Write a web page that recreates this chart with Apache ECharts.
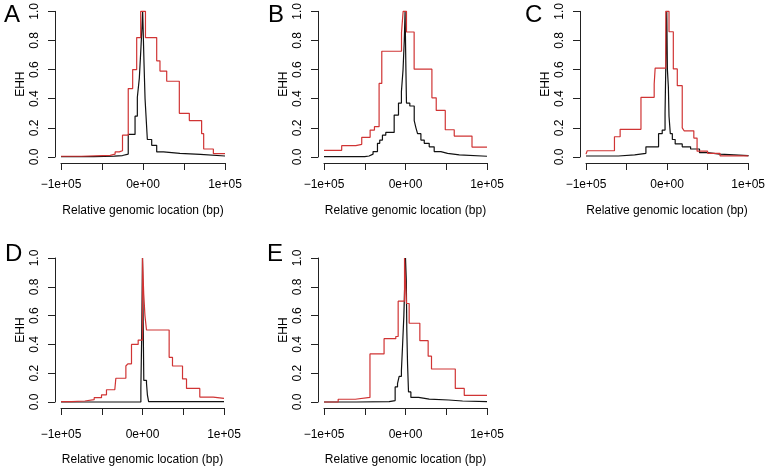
<!DOCTYPE html>
<html>
<head>
<meta charset="utf-8">
<script src="https://cdn.jsdelivr.net/npm/echarts@6/dist/echarts.min.js"></script>
<style>
html,body{margin:0;padding:0;background:#fff;}
#chart{width:768px;height:467px;}
</style>
</head>
<body>
<div id="chart"></div>
<script>
// ---- data (relative position in bp, EHH value) ----
const panelLetters = ['A', 'B', 'C', 'D', 'E'];
const xTickValues = [-100000, 0, 100000];
const xTickLabels = ['\u22121e+05', '0e+00', '1e+05'];
const xAxisTitle = 'Relative genomic location (bp)';
const yAxisTitle = 'EHH';

// Panel A
const aBlackX = [-100000, -60000, -35000, -25000, -18000, -9700, -6900, -4500, -2500, -1200, -400, 1200, 2500, 3700, 5300, 10600, 16700, 25000, 45000, 70000, 100000];
const aBlackY = [0.003, 0.006, 0.01, 0.02, 0.155, 0.28, 0.41, 0.54, 0.75, 0.9, 1.0, 0.65, 0.4, 0.28, 0.12, 0.08, 0.035, 0.025, 0.018, 0.007, 0.007];
const aRedX = [-100000, -75000, -40000, -34000, -29000, -25000, -18000, -12600, -7700, -2800, 3000, 16700, 20700, 28900, 44300, 56500, 71500, 74000, 85800, 100000];
const aRedY = [0.005, 0.011, 0.02, 0.035, 0.043, 0.15, 0.47, 0.60, 0.82, 1.0, 0.82, 0.66, 0.59, 0.52, 0.30, 0.25, 0.16, 0.055, 0.023, 0.023];

// Panel B
const bBlackX = [-100000, -50000, -44700, -39800, -34400, -31600, -28300, -24200, -13900, -8600, -5000, -3000, -1500, -500, 500, 1200, 5300, 10700, 12800, 14800, 18900, 23000, 29100, 35200, 43400, 51600, 66000, 100000];
const bBlackY = [0.002, 0.007, 0.02, 0.037, 0.094, 0.116, 0.15, 0.169, 0.288, 0.37, 0.45, 0.6, 0.8, 1.0, 0.6, 0.37, 0.35, 0.25, 0.2, 0.16, 0.116, 0.094, 0.07, 0.037, 0.025, 0.014, 0.005, 0.005];
const bRedX = [-100000, -78300, -61000, -53700, -43400, -38100, -32400, -29100, -4900, -2900, 1200, 10600, 32400, 37700, 48800, 59800, 81600, 100000];
const bRedY = [0.046, 0.078, 0.087, 0.135, 0.185, 0.208, 0.505, 0.726, 0.854, 1.0, 0.858, 0.603, 0.406, 0.32, 0.187, 0.144, 0.068, 0.068];

// Panel C
const cBlackX = [-100000, -60000, -40000, -26100, -10500, -6000, -2500, -1200, -400, 400, 1600, 2400, 4000, 6500, 10000, 18700, 29000, 40000, 50000, 65000, 100000];
const cBlackY = [0.007, 0.015, 0.025, 0.07, 0.16, 0.185, 0.3, 0.75, 1.0, 0.6, 0.48, 0.28, 0.16, 0.12, 0.09, 0.07, 0.055, 0.03, 0.02, 0.01, 0.005];
const cRedX = [-100000, -98500, -64900, -57900, -32200, -15900, -14700, -1600, 2400, 7700, 12600, 18700, 21000, 33000, 37000, 50000, 65300, 100000];
const cRedY = [0.02, 0.043, 0.139, 0.19, 0.41, 0.50, 0.61, 1.0, 0.86, 0.605, 0.49, 0.20, 0.18, 0.13, 0.04, 0.025, 0.008, 0.005];

// Panel D
const dBlackX = [-100000, -2000, -1000, 0, 1600, 4900, 6000, 7500, 100000];
const dBlackY = [0.0, 0.1, 0.45, 1.0, 0.15, 0.13, 0.05, 0.003, 0.003];
const dRedX = [-100000, -87000, -70700, -59300, -50300, -44200, -34000, -32700, -20400, -18000, -13500, -5300, 0, 1500, 3000, 4900, 32700, 36800, 49100, 54000, 70300, 86700, 100000];
const dRedY = [0.002, 0.007, 0.016, 0.03, 0.05, 0.085, 0.095, 0.165, 0.25, 0.265, 0.40, 0.43, 1.0, 0.75, 0.6, 0.5, 0.31, 0.25, 0.16, 0.094, 0.034, 0.025, 0.025];

// Panel E
const eBlackX = [-100000, -60000, -20000, -12700, -9800, -7800, -5000, -3700, -2000, -800, 0, 1000, 1600, 2500, 3700, 6600, 16000, 29100, 53000, 70000, 100000];
const eBlackY = [0.0, 0.003, 0.01, 0.105, 0.128, 0.178, 0.22, 0.38, 0.6, 0.85, 1.0, 0.84, 0.5, 0.265, 0.07, 0.032, 0.02, 0.014, 0.007, 0.002, 0.002];
const eRedX = [-100000, -82600, -61600, -43600, -26300, -11900, -9000, -1200, 1200, 4500, 17600, 27800, 31900, 61100, 72100, 100000];
const eRedY = [0.0, 0.019, 0.032, 0.334, 0.44, 0.455, 0.70, 1.0, 0.684, 0.547, 0.426, 0.318, 0.229, 0.094, 0.046, 0.046];

const blackSeries = [[aBlackX, aBlackY], [bBlackX, bBlackY], [cBlackX, cBlackY], [dBlackX, dBlackY], [eBlackX, eBlackY]];
const redSeries = [[aRedX, aRedY], [bRedX, bRedY], [cRedX, cRedY], [dRedX, dRedY], [eRedX, eRedY]];

// ---- layout ----
const grids = [
  {left: 61, top: 11, width: 164, height: 146},
  {left: 324, top: 11, width: 163, height: 146},
  {left: 586, top: 11, width: 164, height: 146},
  {left: 61, top: 258, width: 163, height: 146},
  {left: 324, top: 258, width: 163, height: 146}
];
const xLabelMargin = [16, 16, 16, 21, 21];
const xNameGap = [42, 42, 42, 46, 46];
const letterPos = [[4, 15], [268, 15], [525, 15], [5, 254], [267, 254]];

const FONT = '"Liberation Sans", Arial, Helvetica, sans-serif';
const AXIS_COLOR = '#222';
const RED = '#d03434';
const BLACK = '#111';

function zip(xs, ys) { return xs.map((x, i) => [x, ys[i]]); }

const xAxes = grids.map((g, i) => ({
  type: 'value', gridIndex: i, min: -100000, max: 100000, interval: 50000,
  position: 'bottom', offset: 6,
  axisLine: {show: true, onZero: false, lineStyle: {color: AXIS_COLOR, width: 1}},
  axisTick: {show: true, length: 7, lineStyle: {color: AXIS_COLOR, width: 1}},
  splitLine: {show: false},
  axisLabel: {
    show: true, margin: xLabelMargin[i], color: '#000', fontFamily: FONT, fontSize: 12,
    showMinLabel: true, showMaxLabel: true, hideOverlap: false,
    formatter: function (v) {
      const k = xTickValues.indexOf(Math.round(v));
      return k >= 0 ? xTickLabels[k] : '';
    }
  },
  name: xAxisTitle, nameLocation: 'middle', nameGap: xNameGap[i],
  nameTextStyle: {color: '#000', fontFamily: FONT, fontSize: 12}
}));

const yAxes = grids.map((g, i) => ({
  type: 'value', gridIndex: i, min: 0, max: 1, interval: 0.2,
  position: 'left', offset: 6,
  axisLine: {show: true, onZero: false, lineStyle: {color: AXIS_COLOR, width: 1}},
  axisTick: {show: true, length: 7, lineStyle: {color: AXIS_COLOR, width: 1}},
  splitLine: {show: false},
  axisLabel: {
    show: true, rotate: 90, margin: 14, color: '#000', fontFamily: FONT, fontSize: 12,
    formatter: v => v.toFixed(1)
  },
  name: yAxisTitle, nameLocation: 'middle', nameGap: 28, nameRotate: 90,
  nameTextStyle: {color: '#000', fontFamily: FONT, fontSize: 12}
}));

const series = [];
blackSeries.forEach((s, i) => {
  series.push({
    type: 'line', xAxisIndex: i, yAxisIndex: i, step: 'end', showSymbol: false,
    clip: false, silent: true,
    lineStyle: {color: BLACK, width: 1.2}, data: zip(s[0], s[1])
  });
});
redSeries.forEach((s, i) => {
  series.push({
    type: 'line', xAxisIndex: i, yAxisIndex: i, step: 'end', showSymbol: false,
    clip: false, silent: true,
    lineStyle: {color: RED, width: 1.2}, data: zip(s[0], s[1])
  });
});

const graphics = panelLetters.map((t, i) => ({
  type: 'text', x: letterPos[i][0], y: letterPos[i][1],
  style: {text: t, font: '24px ' + FONT, fill: '#000', textVerticalAlign: 'middle', textAlign: 'left'}
}));

const chart = echarts.init(document.getElementById('chart'), null, {renderer: 'canvas'});
chart.setOption({
  animation: false,
  backgroundColor: '#fff',
  grid: grids,
  xAxis: xAxes,
  yAxis: yAxes,
  series: series,
  graphic: graphics
});
</script>
</body>
</html>
